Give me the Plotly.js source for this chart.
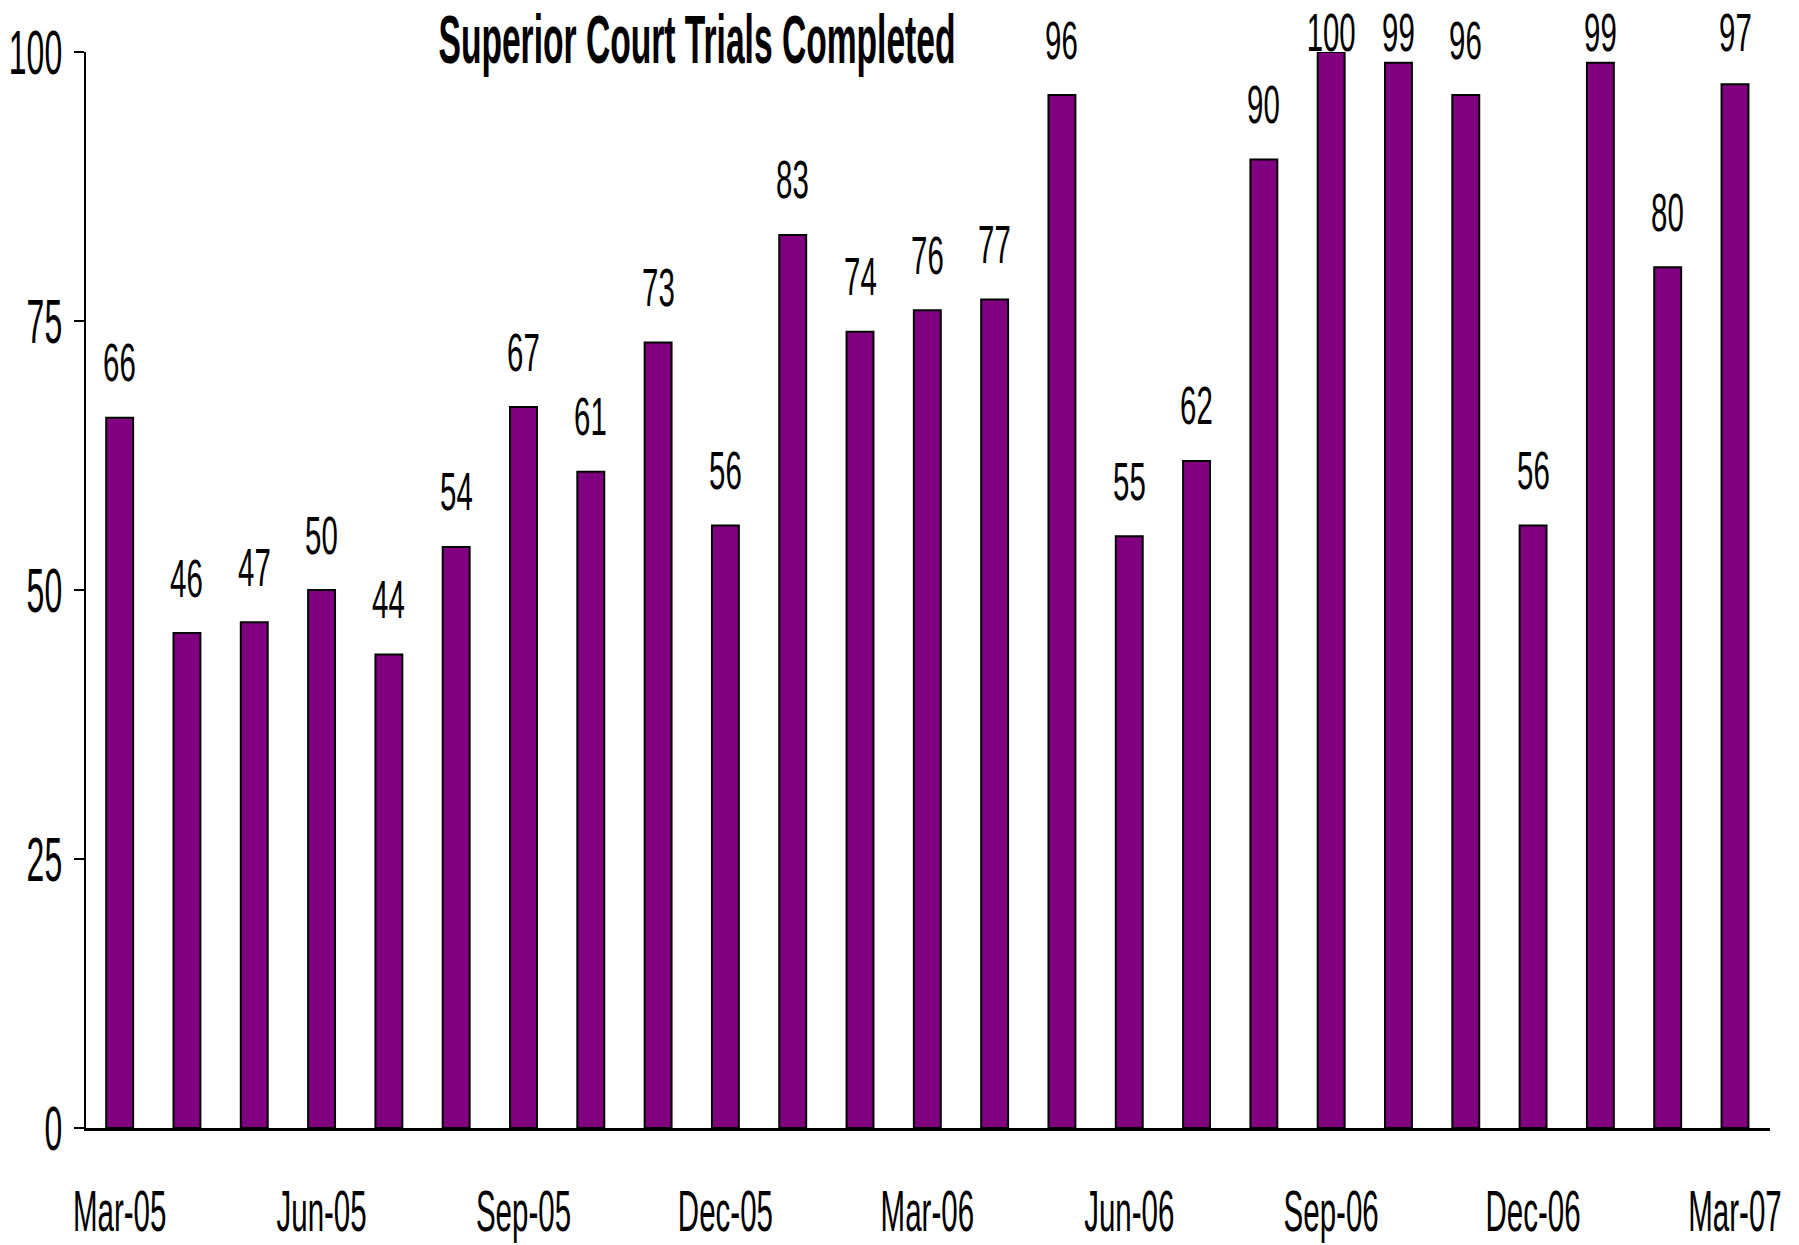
<!DOCTYPE html>
<html>
<head>
<meta charset="utf-8">
<script src="https://cdn.plot.ly/plotly-3.0.1.min.js"></script>
<style>
  html, body { margin: 0; padding: 0; background: #fff; }
  #chart { width: 1799px; height: 1245px; }
</style>
</head>
<body>
<div id="chart"></div>
<script>
// ---- data ----
var months = ['Mar-05','Apr-05','May-05','Jun-05','Jul-05','Aug-05','Sep-05','Oct-05','Nov-05','Dec-05',
              'Jan-06','Feb-06','Mar-06','Apr-06','May-06','Jun-06','Jul-06','Aug-06','Sep-06','Oct-06',
              'Nov-06','Dec-06','Jan-07','Feb-07','Mar-07'];
var trials = [66, 46, 47, 50, 44, 54, 67, 61, 73, 56, 83, 74, 76, 77, 96, 55, 62, 90, 100, 99, 96, 56, 99, 80, 97];
var tickLabels = ['Mar-05','Jun-05','Sep-05','Dec-05','Mar-06','Jun-06','Sep-06','Dec-06','Mar-07'];
var yTicks = [0, 25, 50, 75, 100];
var chartTitle = 'Superior Court Trials Completed';

// ---- style ----
var FONT = 'Liberation Sans, Arial, sans-serif';
var H = 1245, MT = 52, MB = 117;
var PX_PER_UNIT = (H - MT - MB) / 100;
var LABEL_GAP = 56;        // px from bar top to label centre
var LABEL_TOP = 31;        // px: highest allowed label centre from top of figure

var trace = {
  type: 'bar',
  x: months,
  y: trials,
  marker: { color: '#800080', line: { color: '#000', width: 2 } },
  hoverinfo: 'x+y'
};

// boundary ticks (half a category left of each labelled month)
var boundaryTicks = tickLabels.map(function (m) { return months.indexOf(m) - 0.5; });

var annotations = trials.map(function (v, i) {
  var room = (MT - LABEL_TOP) + (100 - v) * PX_PER_UNIT;
  return {
    x: months[i], y: v,
    xref: 'x', yref: 'y',
    yshift: Math.min(LABEL_GAP, room),
    text: String(v), showarrow: false,
    xanchor: 'center', yanchor: 'middle',
    font: { family: FONT, size: 35, color: '#000' }
  };
});

var layout = {
  width: 1799, height: H,
  margin: { l: 86, r: 29, t: MT, b: MB, pad: 0 },
  paper_bgcolor: '#fff', plot_bgcolor: '#fff',
  showlegend: false,
  bargap: 0.6,
  title: {
    text: '<b>' + chartTitle + '</b>',
    font: { family: FONT, size: 35, color: '#000' },
    x: 697 / 1799, xref: 'container', xanchor: 'center',
    y: 1 - 39 / 1245, yref: 'container', yanchor: 'middle'
  },
  xaxis: {
    type: 'category',
    categoryorder: 'array', categoryarray: months,
    range: [-0.5, 24.52],
    tickmode: 'array', tickvals: tickLabels, ticktext: tickLabels,
    ticks: '', showgrid: false, zeroline: false,
    showline: true, linecolor: '#000', linewidth: 3,
    tickfont: { family: FONT, size: 36, color: '#000' },
    ticklabelstandoff: 49
  },
  xaxis2: {
    overlaying: 'x', anchor: 'y', side: 'bottom',
    range: [-0.5, 24.52],
    tickmode: 'array', tickvals: boundaryTicks,
    showticklabels: false,
    ticks: 'outside', ticklen: 19, tickwidth: 2, tickcolor: '#000',
    showgrid: false, zeroline: false, showline: false
  },
  yaxis: {
    range: [0, 100],
    tickmode: 'array', tickvals: yTicks,
    ticks: 'outside', ticklen: 10, tickwidth: 2, tickcolor: '#000',
    showgrid: false, zeroline: false,
    showline: true, linecolor: '#000', linewidth: 2,
    tickfont: { family: FONT, size: 39, color: '#000' },
    ticklabelstandoff: 4
  },
  annotations: annotations
};

// condense horizontally and stretch vertically (narrow, tall lettering)
function reshape(selector, sx, sy) {
  document.querySelectorAll(selector).forEach(function (t) {
    var b = t.getBBox();
    var cy = b.y + b.height / 2;
    var anchor = t.getAttribute('text-anchor') || 'start';
    var cx = anchor === 'end' ? b.x + b.width : (anchor === 'middle' ? b.x + b.width / 2 : b.x);
    var tr = t.getAttribute('transform') || '';
    t.setAttribute('transform', tr + ' translate(' + cx + ',' + cy + ') scale(' + sx + ',' + sy + ') translate(' + (-cx) + ',' + (-cy) + ')');
  });
}

Plotly.newPlot('chart', [trace], layout, { displayModeBar: false, staticPlot: true }).then(function () {
  reshape('#chart .xtick text', 0.82, 1.6);
  reshape('#chart .ytick text', 0.82, 1.6);
  reshape('#chart .annotation-text', 0.84, 1.55);
  reshape('#chart .gtitle', 0.96, 1.95);
});
</script>
</body>
</html>
